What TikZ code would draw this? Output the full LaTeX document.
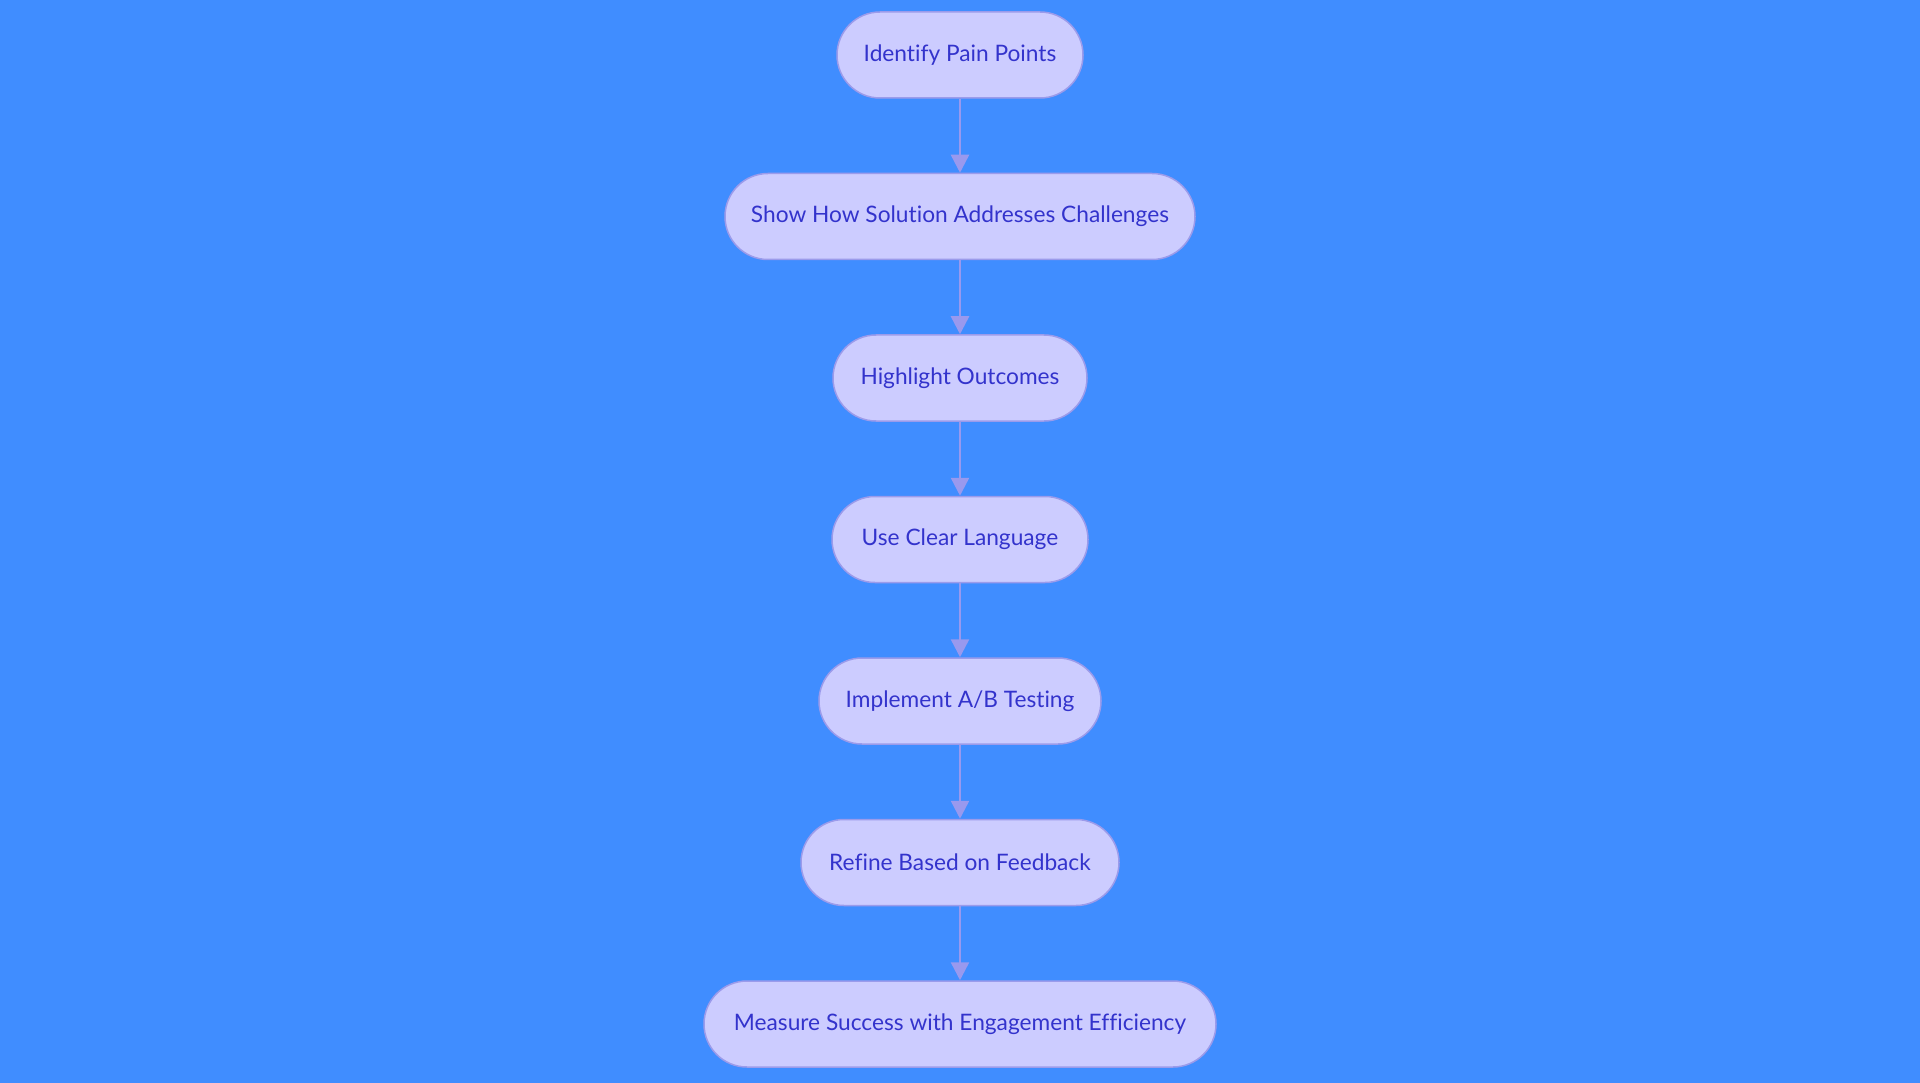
\documentclass[tikz,border=0pt]{standalone}
\usepackage{fontspec}
\setmainfont{Lato}[Ligatures={NoCommon}]
\usetikzlibrary{arrows.meta}
\definecolor{bg}{RGB}{64,141,255}
\definecolor{nodefill}{RGB}{204,204,255}
\definecolor{nodeline}{RGB}{155,155,235}
\definecolor{nodetext}{RGB}{51,51,204}
\definecolor{arrowcol}{RGB}{153,153,238}
\tikzset{
  stepnode/.style={draw=nodeline, line width=1.5pt, fill=nodefill, rounded corners=43pt,
    minimum height=86pt, inner sep=0pt, text=nodetext, font=\fontsize{22.7pt}{27pt}\selectfont},
  flow/.style={draw=arrowcol, line width=2.5pt, -{Triangle[width=18pt,length=18pt]}}
}
\begin{document}
\begin{tikzpicture}[x=1pt,y=-1pt]
\fill[bg] (0,0) rectangle (1920,1083);
\useasboundingbox (0,0) rectangle (1920,1083);
\node[stepnode, minimum width=246pt] (n1) at (960,55) {Identify Pain Points};
\node[stepnode, minimum width=470pt] (n2) at (960,216.5) {Show How Solution Addresses Challenges};
\node[stepnode, minimum width=254pt] (n3) at (960,378) {Highlight Outcomes};
\node[stepnode, minimum width=256pt] (n4) at (960,539.5) {Use Clear Language};
\node[stepnode, minimum width=282pt] (n5) at (960,701) {Implement A/B Testing};
\node[stepnode, minimum width=318pt] (n6) at (960,862.5) {Refine Based on Feedback};
\node[stepnode, minimum width=512pt] (n7) at (960,1024) {Measure Success with Engagement Efficiency};
\draw[flow] (n1) -- (n2);
\draw[flow] (n2) -- (n3);
\draw[flow] (n3) -- (n4);
\draw[flow] (n4) -- (n5);
\draw[flow] (n5) -- (n6);
\draw[flow] (n6) -- (n7);
\end{tikzpicture}
\end{document}
